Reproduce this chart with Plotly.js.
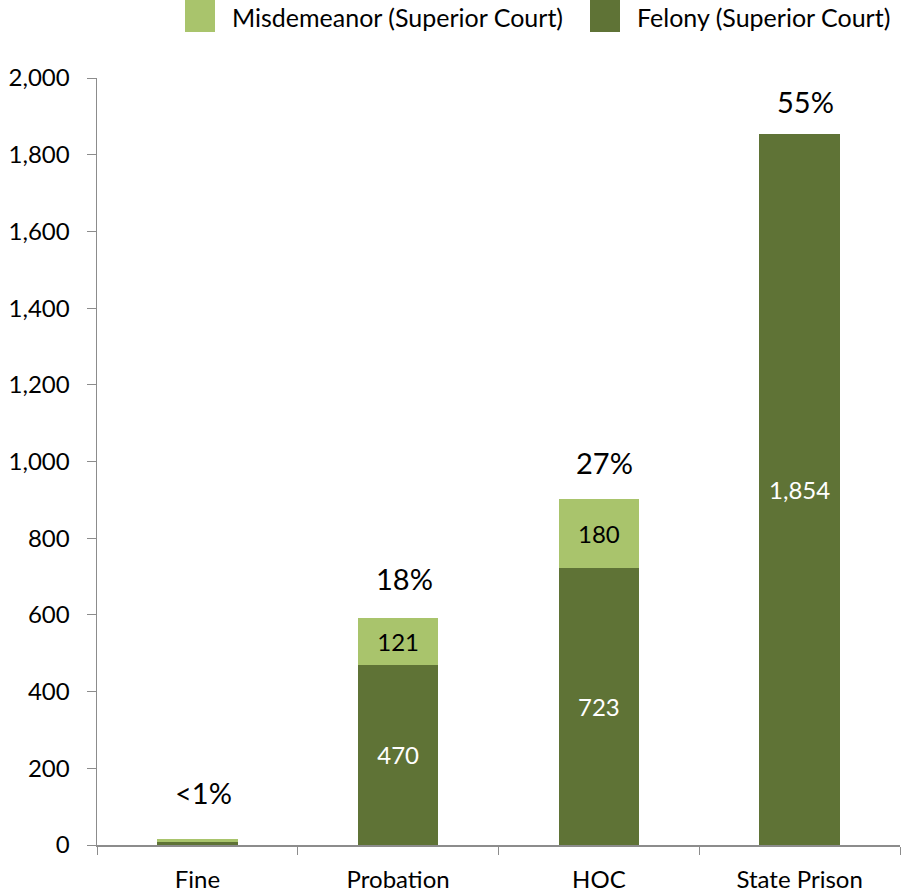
<!DOCTYPE html>
<html>
<head>
<meta charset="utf-8">
<script src="https://cdn.plot.ly/plotly-3.0.1.min.js"></script>
<style>html,body{margin:0;padding:0;background:#fff;}#chart{width:903px;height:894px;}</style>
</head>
<body>
<div id="chart"></div>
<script>
// Sentences by outcome, split by court charge level
const categories = ['Fine', 'Probation', 'HOC', 'State Prison'];
const felony = [8, 470, 723, 1854];
const misdemeanor = [7, 121, 180, 0];
const shareLabels = ['<1%', '18%', '27%', '55%'];
const felonyText = ['', '470', '723', '1,854'];
const misdemeanorText = ['', '121', '180', ''];

const FONT = 'Lato, "Open Sans", sans-serif';
const LIGHT = '#A9C46C';
const DARK = '#5F7336';

const traces = [
  {
    type: 'bar', name: 'Felony (Superior Court)',
    x: categories, y: felony,
    marker: {color: DARK},
    text: felonyText, textposition: 'inside', insidetextanchor: 'middle',
    textfont: {family: FONT, size: 24, color: '#ffffff'},
    hoverinfo: 'x+y+name'
  },
  {
    type: 'bar', name: 'Misdemeanor (Superior Court)',
    x: categories, y: misdemeanor,
    marker: {color: LIGHT},
    text: misdemeanorText, textposition: 'inside', insidetextanchor: 'middle',
    textfont: {family: FONT, size: 24, color: '#000000'},
    hoverinfo: 'x+y+name'
  }
];

// Share labels float above each stacked column; small nudges keep them clear
const labelLift = [27, 20, 17, 13];
const totals = felony.map((v, i) => v + misdemeanor[i]);
const annotations = categories.map((c, i) => ({
  x: c, y: totals[i], xref: 'x', yref: 'y',
  text: shareLabels[i], showarrow: false,
  yanchor: 'bottom', yshift: labelLift[i], xshift: 6,
  font: {family: FONT, size: 29, color: '#000'}
}));

// Legend drawn as swatches with labels across the top
const legendItems = [
  {label: 'Misdemeanor (Superior Court)', color: LIGHT, x0: 185},
  {label: 'Felony (Superior Court)', color: DARK, x0: 590}
];
const shapes = [];
legendItems.forEach(it => {
  shapes.push({
    type: 'rect', xref: 'paper', yref: 'paper',
    x0: (it.x0 - 97) / 803, x1: (it.x0 + 30 - 97) / 803,
    y0: (845 - 32) / 767, y1: 845 / 767,
    fillcolor: it.color, line: {width: 0}
  });
  annotations.push({
    xref: 'paper', yref: 'paper',
    x: (it.x0 + 45 - 97) / 803, y: (845 - 17) / 767,
    xanchor: 'left', yanchor: 'middle', showarrow: false,
    text: it.label, font: {family: FONT, size: 25, color: '#000'}
  });
});

const layout = {
  width: 903, height: 894,
  margin: {l: 97, r: 3, t: 78, b: 49},
  paper_bgcolor: '#fff', plot_bgcolor: '#fff',
  barmode: 'stack', bargap: 0.6,
  showlegend: false,
  font: {family: FONT, size: 24, color: '#000'},
  xaxis: {
    type: 'category',
    showline: true, linecolor: '#8c8c8c', linewidth: 1.5,
    ticks: 'outside', tickson: 'boundaries', ticklen: 8, tickcolor: '#8c8c8c',
    tickfont: {family: FONT, size: 24, color: '#000'},
    showgrid: false, zeroline: false, ticklabelstandoff: 13
  },
  yaxis: {
    range: [0, 2000], dtick: 200, tickformat: ',',
    showline: true, linecolor: '#8c8c8c', linewidth: 1.5,
    ticks: 'outside', ticklen: 9, tickcolor: '#8c8c8c',
    tickfont: {family: FONT, size: 24, color: '#000'},
    showgrid: false, zeroline: false, ticklabelstandoff: 12
  },
  annotations: annotations,
  shapes: shapes
};

Plotly.newPlot('chart', traces, layout, {displayModeBar: false, staticPlot: true});
</script>
</body>
</html>
